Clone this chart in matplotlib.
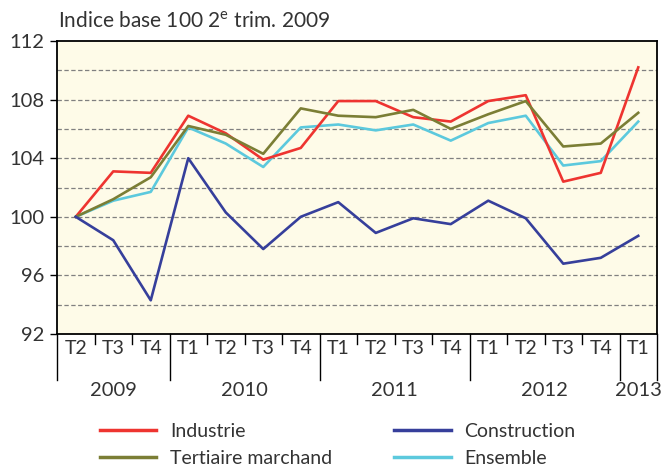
import numpy as np
import matplotlib
matplotlib.use("Agg")
import matplotlib.pyplot as plt
from matplotlib.lines import Line2D

plt.rcParams['font.family'] = ['Lato', 'DejaVu Sans']
plt.rcParams['mathtext.fontset'] = 'custom'
plt.rcParams['mathtext.rm'] = 'Lato'

# quarters 2009T2 -> 2013T1
quarters = ["T2", "T3", "T4", "T1", "T2", "T3", "T4", "T1", "T2", "T3", "T4",
            "T1", "T2", "T3", "T4", "T1"]
years = ["2009", "2010", "2011", "2012", "2013"]
year_len = [3, 4, 4, 4, 1]

industrie = [100.0, 103.1, 103.0, 106.9, 105.7, 103.9, 104.7, 107.9,
             107.9, 106.8, 106.5, 107.9, 108.3, 102.4, 103.0, 110.2]
tertiaire = [100.0, 101.2, 102.7, 106.2, 105.6, 104.3, 107.4, 106.9,
             106.8, 107.3, 106.0, 107.0, 107.9, 104.8, 105.0, 107.1]
construction = [100.0, 98.4, 94.3, 104.0, 100.3, 97.8, 100.0, 101.0,
                98.9, 99.9, 99.5, 101.1, 99.9, 96.8, 97.2, 98.7]
ensemble = [100.0, 101.1, 101.7, 106.1, 105.0, 103.4, 106.1, 106.3,
            105.9, 106.3, 105.2, 106.4, 106.9, 103.5, 103.8, 106.5]

W, H = 661, 466
fig = plt.figure(figsize=(W / 100, H / 100), dpi=100)
L, R, T, B = 57, 657, 41, 334
ax = fig.add_axes([L / W, 1 - B / H, (R - L) / W, (B - T) / H])
ax.set_facecolor('#FEFBE8')

x = np.arange(len(quarters))
lw = 1.9
ax.plot(x, industrie, color='#EE3430', lw=lw, label='Industrie', zorder=3)
ax.plot(x, tertiaire, color='#7B7E35', lw=lw, label='Tertiaire marchand', zorder=3)
ax.plot(x, construction, color='#363F9B', lw=lw, label='Construction', zorder=3)
ax.plot(x, ensemble, color='#5CC9DD', lw=lw, label='Ensemble', zorder=2)

ax.set_xlim(-0.5, len(quarters) - 0.5)
ax.set_ylim(92, 112)
for g in range(94, 112, 2):
    ax.axhline(g, color='#808080', lw=0.9, ls=(0, (3.5, 2)), zorder=1)

ax.set_yticks(range(92, 113, 4))
ax.tick_params(axis='y', direction='out', length=5, width=1, labelsize=14.5,
               pad=4, colors='black', labelcolor='#333333')
ax.set_xticks([])
for s in ax.spines.values():
    s.set_linewidth(1.3)
    s.set_color('black')

# category axis below plot
trans = ax.get_xaxis_transform()
short = -10 / (B - T)
long_ = -46 / (B - T)
bounds = np.cumsum([0] + year_len) - 0.5
for i in range(len(quarters) + 1):
    xb = i - 0.5
    y1 = long_ if xb in bounds else short
    ax.plot([xb, xb], [0, y1], transform=trans, color='black', lw=1,
            clip_on=False)
for i, q in enumerate(quarters):
    ax.text(i, -14 / (B - T), q, transform=trans, ha='center', va='center',
            fontsize=14, color='#333333')
for k, yr in enumerate(years):
    c = (bounds[k] + bounds[k + 1]) / 2
    ax.text(c, -56 / (B - T), yr, transform=trans, ha='center', va='center',
            fontsize=14.5, color='#333333')

fig.text(58 / W, 1 - 21 / H, r"Indice base 100 2$^{\mathrm{e}}$ trim. 2009",
         ha='left', va='center', fontsize=15, color='#333333')

handles = [Line2D([], [], color='#EE3430', lw=2.5),
           Line2D([], [], color='#7B7E35', lw=2.5),
           Line2D([], [], color='#363F9B', lw=2.5),
           Line2D([], [], color='#5CC9DD', lw=2.5)]
labels = ['Industrie', 'Tertiaire marchand', 'Construction', 'Ensemble']
fig.legend(handles, labels, ncol=2, frameon=False, fontsize=14,
           loc='center left', bbox_to_anchor=(92 / W, 1 - 445 / H),
           handlelength=2.9, handletextpad=0.7, columnspacing=3.2,
           labelspacing=0.5, labelcolor='#333333', borderaxespad=0)

fig.savefig('out.png', dpi=100)
